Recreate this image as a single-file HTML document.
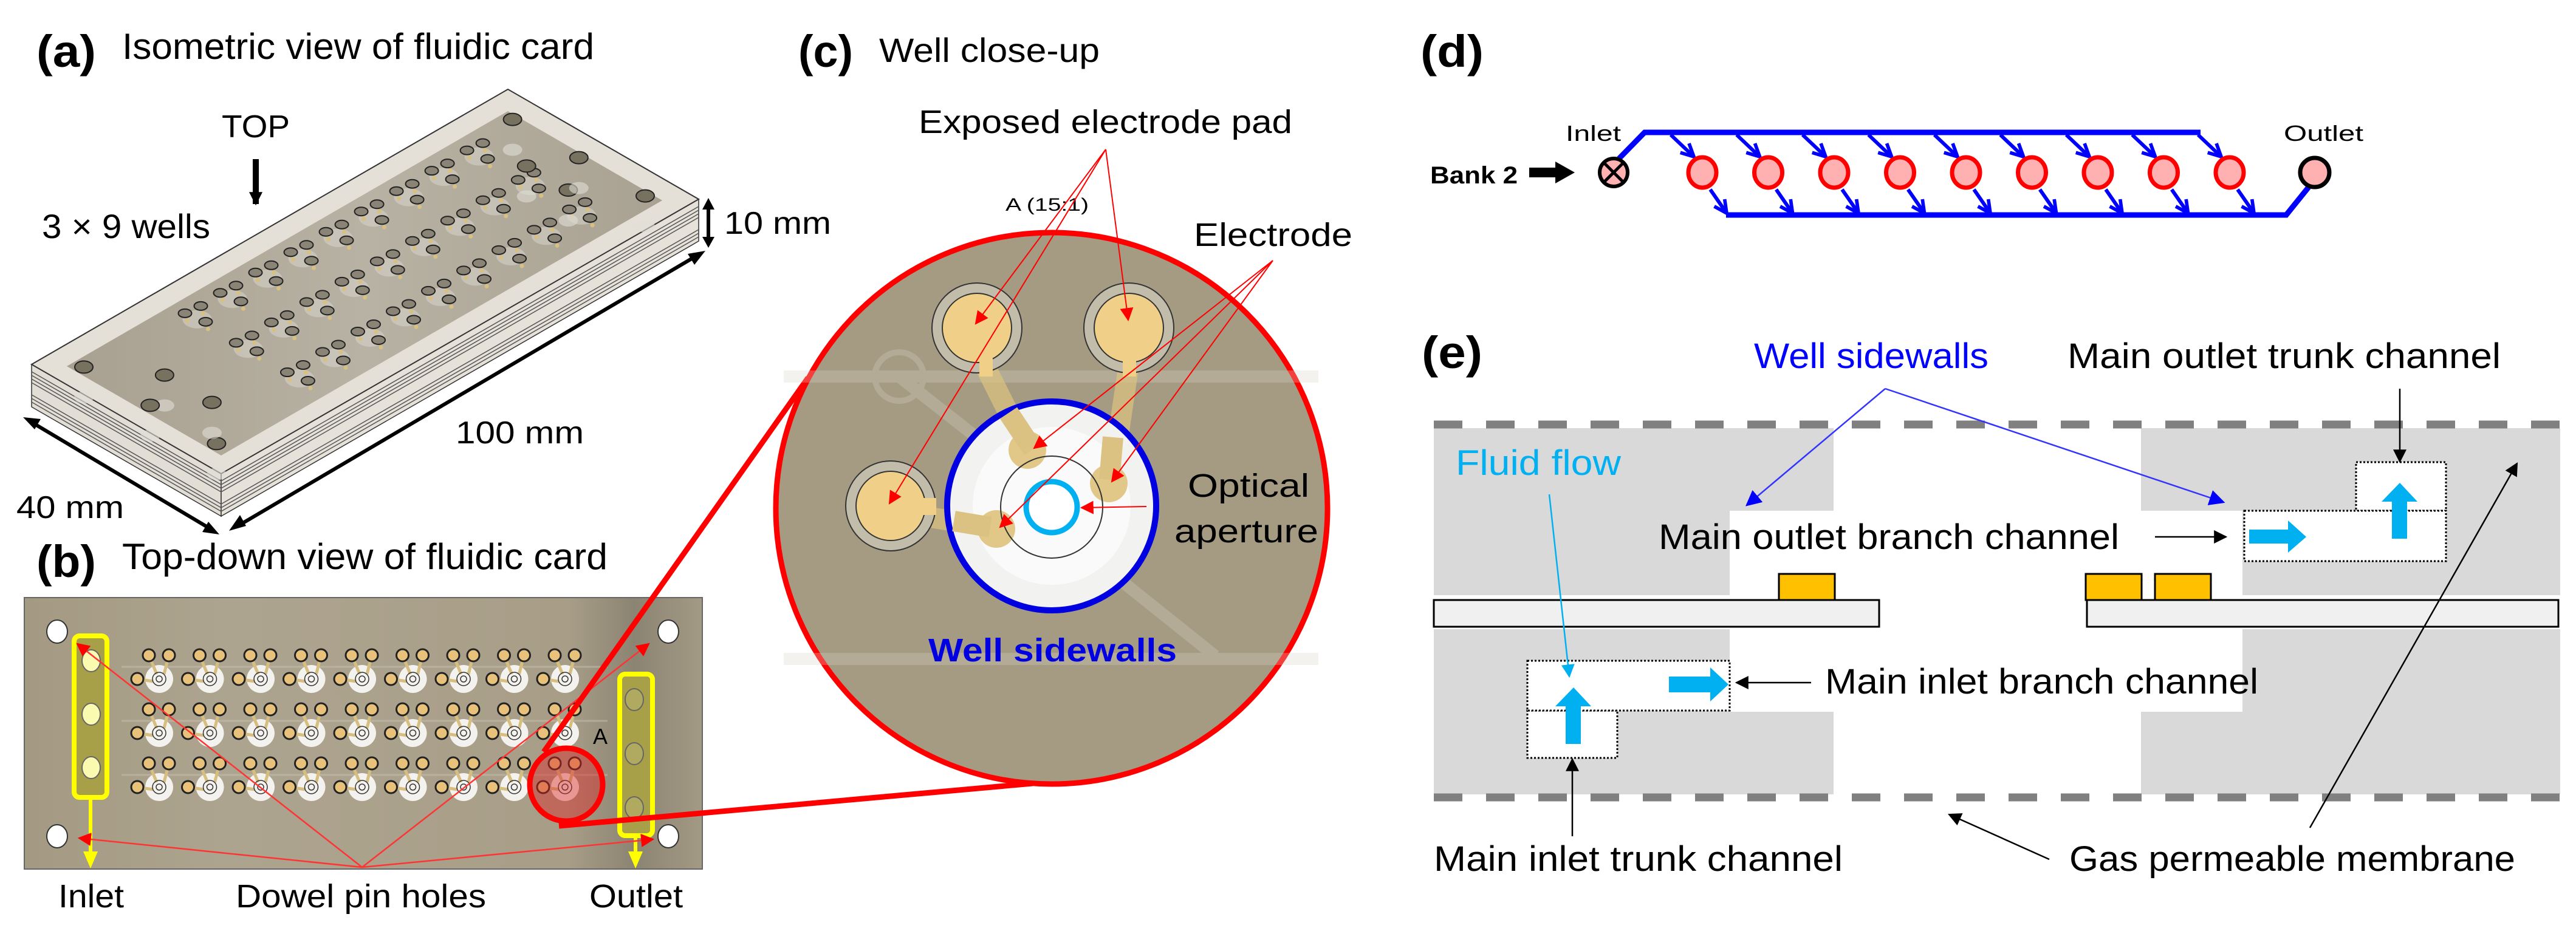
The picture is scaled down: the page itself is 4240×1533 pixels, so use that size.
<!DOCTYPE html>
<html><head><meta charset="utf-8"><style>
html,body{margin:0;padding:0;background:#fff}
svg{display:block}
text{font-family:"Liberation Sans",sans-serif}
</style></head><body>
<svg id="s" xmlns="http://www.w3.org/2000/svg" width="4240" height="1533" viewBox="0 0 4240 1533">
<defs>
<marker id="abk" viewBox="0 0 10 10" markerWidth="22" markerHeight="22" refX="9" refY="5" orient="auto" markerUnits="userSpaceOnUse"><path d="M0,0 L10,5 L0,10 z" fill="#000"/></marker>
<marker id="ar" viewBox="0 0 10 10" markerWidth="22" markerHeight="22" refX="9" refY="5" orient="auto" markerUnits="userSpaceOnUse"><path d="M0,0 L10,5 L0,10 z" fill="#f00"/></marker>
<marker id="abl" viewBox="0 0 10 10" markerWidth="26" markerHeight="26" refX="9" refY="5" orient="auto" markerUnits="userSpaceOnUse"><path d="M0,0 L10,5 L0,10 z" fill="#00f"/></marker>
<marker id="acy" viewBox="0 0 10 10" markerWidth="22" markerHeight="22" refX="9" refY="5" orient="auto" markerUnits="userSpaceOnUse"><path d="M0,0 L10,5 L0,10 z" fill="#00b0f0"/></marker>
<marker id="av" viewBox="0 0 10 10" markerWidth="26" markerHeight="26" refX="9" refY="5" orient="auto" markerUnits="userSpaceOnUse"><path d="M1,1 L9,5 L1,9" fill="none" stroke="#00f" stroke-width="2.2"/></marker>
<linearGradient id="topf" x1="0" y1="0" x2="1" y2="0"><stop offset="0" stop-color="#a8a090"/><stop offset="0.5" stop-color="#b8b2a4"/><stop offset="1" stop-color="#a9a292"/></linearGradient>
<linearGradient id="cardb" x1="0" y1="0" x2="1" y2="0"><stop offset="0" stop-color="#a49a83"/><stop offset="0.3" stop-color="#ada48f"/><stop offset="0.8" stop-color="#a89e88"/><stop offset="0.9" stop-color="#8c8472"/><stop offset="1" stop-color="#a39a85"/></linearGradient>
</defs>

<!-- ===== (a) ===== -->
<text x="60" y="110" font-size="74" font-weight="bold" textLength="98" lengthAdjust="spacingAndGlyphs">(a)</text>
<text x="201" y="97" font-size="60" textLength="777" lengthAdjust="spacingAndGlyphs">Isometric view of fluidic card</text>
<g id="card">
<polygon points="52,600 364,780 364,850 52,670" fill="#e2ded6" stroke="#333" stroke-width="1.5"/>
<polygon points="364,780 1150,328 1150,397 364,850" fill="#e6e2da" stroke="#333" stroke-width="1.5"/>
<g stroke="#555" stroke-width="1.5" fill="none">
<path d="M52,612 L364,792 L1150,340"/><path d="M52,618 L364,798 L1150,346"/><path d="M52,624 L364,804 L1150,352"/><path d="M52,630 L364,810 L1150,358"/>
<path d="M52,650 L364,830 L1150,378"/><path d="M52,656 L364,836 L1150,384"/><path d="M52,662 L364,842 L1150,390"/>
</g>
<polygon points="52,600 836,147 1150,328 364,780" fill="#e4e0d8" stroke="#333" stroke-width="2"/>
<polygon points="110,603 836,183 1090,330 364,750" fill="url(#topf)"/>
</g>
<text x="365" y="226" font-size="52" textLength="112" lengthAdjust="spacingAndGlyphs">TOP</text>
<line x1="421" y1="262" x2="421" y2="336" stroke="#000" stroke-width="10" marker-end="url(#abk)"/>
<text x="69" y="392" font-size="56" textLength="277" lengthAdjust="spacingAndGlyphs">3 × 9 wells</text>
<line x1="1166" y1="340" x2="1166" y2="395" stroke="#000" stroke-width="6"/>
<path d="M1156,345 L1166,326 L1176,345 z M1156,390 L1166,408 L1176,390 z" fill="#000"/>
<text x="1192" y="385" font-size="52" textLength="176" lengthAdjust="spacingAndGlyphs">10 mm</text>
<text x="750" y="730" font-size="52" textLength="211" lengthAdjust="spacingAndGlyphs">100 mm</text>
<text x="27" y="853" font-size="52" textLength="177" lengthAdjust="spacingAndGlyphs">40 mm</text>
<line x1="395" y1="864" x2="1140" y2="425" stroke="#000" stroke-width="6"/>
<path d="M377,874 L395,848 L405,866 z M1161,413 L1132,418 L1143,436 z" fill="#000"/>
<line x1="55" y1="697" x2="345" y2="870" stroke="#000" stroke-width="6"/>
<path d="M38,687 L67,690 L57,707 z M361,880 L333,876 L343,859 z" fill="#000"/>
<g id="isoholes"></g>

<!-- ===== (b) ===== -->
<text x="60" y="950" font-size="74" font-weight="bold" textLength="98" lengthAdjust="spacingAndGlyphs">(b)</text>
<text x="201" y="937" font-size="60" textLength="799" lengthAdjust="spacingAndGlyphs">Top-down view of fluidic card</text>
<rect x="40" y="984" width="1116" height="447" fill="url(#cardb)" stroke="#666" stroke-width="2"/>
<g id="bwells"></g>
<ellipse cx="94" cy="1040" rx="17" ry="19" fill="#fff" stroke="#333" stroke-width="2"/>
<ellipse cx="94" cy="1377" rx="17" ry="19" fill="#fff" stroke="#333" stroke-width="2"/>
<ellipse cx="1100" cy="1040" rx="17" ry="19" fill="#fff" stroke="#333" stroke-width="2"/>
<ellipse cx="1100" cy="1377" rx="17" ry="19" fill="#fff" stroke="#333" stroke-width="2"/>
<rect x="122" y="1047" width="54" height="266" rx="9" fill="#a8a048" stroke="#ffff00" stroke-width="8"/>
<ellipse cx="150" cy="1088" rx="15" ry="18" fill="#fafab0" stroke="#666" stroke-width="2"/>
<ellipse cx="150" cy="1176" rx="15" ry="18" fill="#fafab0" stroke="#666" stroke-width="2"/>
<ellipse cx="150" cy="1264" rx="15" ry="18" fill="#fafab0" stroke="#666" stroke-width="2"/>
<rect x="1020" y="1110" width="54" height="266" rx="9" fill="#a8a048" stroke="#ffff00" stroke-width="8"/>
<ellipse cx="1044" cy="1152" rx="15" ry="18" fill="#b0aa60" stroke="#666" stroke-width="2"/>
<ellipse cx="1044" cy="1241" rx="15" ry="18" fill="#b0aa60" stroke="#666" stroke-width="2"/>
<ellipse cx="1044" cy="1330" rx="15" ry="18" fill="#b0aa60" stroke="#666" stroke-width="2"/>
<line x1="149" y1="1316" x2="149" y2="1405" stroke="#ffff00" stroke-width="6"/>
<path d="M137,1402 L149,1430 L161,1402 z" fill="#ffff00"/>
<line x1="1046" y1="1380" x2="1046" y2="1405" stroke="#ffff00" stroke-width="6"/>
<path d="M1034,1402 L1046,1430 L1058,1402 z" fill="#ffff00"/>
<circle cx="932" cy="1292" r="60" fill="rgba(220,40,40,0.45)" stroke="#f00" stroke-width="9"/>
<text x="976" y="1225" font-size="36">A</text>
<g stroke="#f33" stroke-width="2.5" fill="none">
<line x1="596" y1="1428" x2="130" y2="1380" marker-end="url(#ar)"/>
<line x1="596" y1="1428" x2="127" y2="1060" marker-end="url(#ar)"/>
<line x1="596" y1="1428" x2="1068" y2="1060" marker-end="url(#ar)"/>
<line x1="596" y1="1428" x2="1075" y2="1382" marker-end="url(#ar)"/>
</g>
<text x="96" y="1494" font-size="54" textLength="108" lengthAdjust="spacingAndGlyphs">Inlet</text>
<text x="388" y="1494" font-size="54" textLength="412" lengthAdjust="spacingAndGlyphs">Dowel pin holes</text>
<text x="970" y="1494" font-size="54" textLength="154" lengthAdjust="spacingAndGlyphs">Outlet</text>

<!-- ===== (c) ===== -->
<text x="1314" y="110" font-size="74" font-weight="bold" textLength="90" lengthAdjust="spacingAndGlyphs">(c)</text>
<text x="1447" y="102" font-size="56" textLength="363" lengthAdjust="spacingAndGlyphs">Well close-up</text>
<line x1="895" y1="1238" x2="1330" y2="622" stroke="#f00" stroke-width="9"/>
<line x1="920" y1="1360" x2="1700" y2="1290" stroke="#f00" stroke-width="9"/>
<circle cx="1731" cy="837" r="454" fill="#a59a82" stroke="#f00" stroke-width="9"/>
<g opacity="0.3" fill="none" stroke="#d8d4c8">
<line x1="1290" y1="620" x2="2170" y2="620" stroke-width="20"/>
<line x1="1290" y1="1085" x2="2170" y2="1085" stroke-width="20"/>
<line x1="1480" y1="620" x2="1620" y2="730" stroke-width="20"/>
<line x1="1850" y1="960" x2="2000" y2="1080" stroke-width="20"/>
<circle cx="1480" cy="620" r="40" stroke-width="10"/>
</g>
<g fill="#e8d090" opacity="0.8">
<path d="M1620,600 L1690,740" stroke="#dcc282" stroke-width="34" opacity="0.9"/>
<path d="M1858,600 L1830,790" stroke="#dcc282" stroke-width="34" opacity="0.9"/>
<path d="M1520,850 L1640,870" stroke="#dcc282" stroke-width="34" opacity="0.9"/>
</g>
<circle cx="1731" cy="833" r="172" fill="#f2f2f0" stroke="#0000e0" stroke-width="10"/>
<circle cx="1731" cy="833" r="130" fill="#fafafa"/>
<circle cx="1691" cy="741" r="31" fill="#e2c888"/>
<circle cx="1825" cy="796" r="31" fill="#e2c888"/>
<circle cx="1640" cy="871" r="31" fill="#e2c888"/>
<path d="M1700,740 L1660,680" stroke="#dcc282" stroke-width="34"/>
<path d="M1826,790 L1832,720" stroke="#dcc282" stroke-width="34"/>
<path d="M1630,868 L1570,858" stroke="#dcc282" stroke-width="34"/>
<circle cx="1731" cy="835" r="84" fill="none" stroke="#333" stroke-width="2"/>
<circle cx="1731" cy="835" r="42" fill="#fff" stroke="#00b0f0" stroke-width="9"/>
<g stroke="#333" stroke-width="2">
<circle cx="1608" cy="540" r="74" fill="#c2bcaa"/><circle cx="1608" cy="540" r="57" fill="#f0d088"/>
<circle cx="1858" cy="540" r="74" fill="#c2bcaa"/><circle cx="1858" cy="540" r="57" fill="#f0d088"/>
<circle cx="1466" cy="833" r="74" fill="#c2bcaa"/><circle cx="1466" cy="833" r="57" fill="#f0d088"/>
</g>
<rect x="1612" y="590" width="22" height="30" fill="#f0d088"/>
<rect x="1848" y="590" width="22" height="30" fill="#f0d088"/>
<rect x="1515" y="820" width="26" height="28" fill="#f0d088"/>
<text x="1512" y="219" font-size="54" textLength="615" lengthAdjust="spacingAndGlyphs">Exposed electrode pad</text>
<text x="1655" y="347" font-size="30" textLength="137" lengthAdjust="spacingAndGlyphs">A (15:1)</text>
<text x="1965" y="405" font-size="54" textLength="261" lengthAdjust="spacingAndGlyphs">Electrode</text>
<text x="1955" y="818" font-size="54" textLength="200" lengthAdjust="spacingAndGlyphs">Optical</text>
<text x="1933" y="893" font-size="54" textLength="237" lengthAdjust="spacingAndGlyphs">aperture</text>
<text x="1528" y="1089" font-size="54" font-weight="bold" fill="#0000e0" textLength="409" lengthAdjust="spacingAndGlyphs">Well sidewalls</text>
<g stroke="#f00" stroke-width="2" fill="none">
<line x1="1820" y1="246" x2="1606" y2="533" marker-end="url(#ar)"/>
<line x1="1820" y1="246" x2="1857" y2="527" marker-end="url(#ar)"/>
<line x1="1820" y1="246" x2="1464" y2="829" marker-end="url(#ar)"/>
<line x1="2095" y1="429" x2="1702" y2="738" marker-end="url(#ar)"/>
<line x1="2095" y1="429" x2="1830" y2="793" marker-end="url(#ar)"/>
<line x1="2095" y1="429" x2="1646" y2="868" marker-end="url(#ar)"/>
<line x1="1887" y1="834" x2="1780" y2="836" marker-end="url(#ar)"/>
</g>

<!-- ===== (d) ===== -->
<text x="2338" y="110" font-size="74" font-weight="bold" textLength="104" lengthAdjust="spacingAndGlyphs">(d)</text>
<text x="2577" y="232" font-size="36" textLength="91" lengthAdjust="spacingAndGlyphs">Inlet</text>
<text x="3759" y="232" font-size="36" textLength="131" lengthAdjust="spacingAndGlyphs">Outlet</text>
<text x="2354" y="302" font-size="40" font-weight="bold" textLength="144" lengthAdjust="spacingAndGlyphs">Bank 2</text>
<rect x="2517" y="276" width="45" height="16" fill="#000"/>
<path d="M2560,266 L2592,284 L2560,302 z" fill="#000"/>
<polyline points="2664,262 2707,218 3622,218" fill="none" stroke="#00f" stroke-width="9"/>
<polyline points="2841,354 3763,354 3800,308" fill="none" stroke="#00f" stroke-width="9"/>
<g id="dwells"></g>
<circle cx="2656" cy="284" r="23" fill="#ffb0b0" stroke="#000" stroke-width="6"/>
<path d="M2640,268 L2672,300 M2672,268 L2640,300" stroke="#000" stroke-width="5"/>
<circle cx="3810" cy="284" r="24" fill="#ffb0b0" stroke="#000" stroke-width="7"/>

<!-- ===== (e) ===== -->
<text x="2340" y="606" font-size="74" font-weight="bold" textLength="100" lengthAdjust="spacingAndGlyphs">(e)</text>
<path d="M2360,705 H3018 V841 H2847 V980 H2360 z" fill="#d9d9d9"/>
<path d="M2360,1036 H2847 V1172 H3018 V1308 H2360 z" fill="#d9d9d9"/>
<path d="M3524,705 H4214 V980 H3691 V841 H3524 z" fill="#d9d9d9"/>
<path d="M3691,1036 H4214 V1308 H3524 V1172 H3691 z" fill="#d9d9d9"/>
<line x1="2360" y1="699" x2="4214" y2="699" stroke="#808080" stroke-width="13" stroke-dasharray="47 39"/>
<line x1="2360" y1="1313" x2="4214" y2="1313" stroke="#808080" stroke-width="13" stroke-dasharray="47 39"/>
<rect x="2360" y="988" width="733" height="44" fill="#f0f0f0" stroke="#000" stroke-width="3"/>
<rect x="3435" y="988" width="776" height="44" fill="#f0f0f0" stroke="#000" stroke-width="3"/>
<rect x="2928" y="945" width="92" height="43" fill="#ffc000" stroke="#000" stroke-width="3"/>
<rect x="3433" y="945" width="92" height="43" fill="#ffc000" stroke="#000" stroke-width="3"/>
<rect x="3547" y="945" width="92" height="43" fill="#ffc000" stroke="#000" stroke-width="3"/>
<g fill="#fff" stroke="#000" stroke-width="3" stroke-dasharray="3 3">
<rect x="3878" y="761" width="148" height="80"/>
<rect x="3694" y="841" width="332" height="83"/>
<rect x="2514" y="1170" width="148" height="78"/>
<rect x="2514" y="1088" width="333" height="82"/>
</g>
<g fill="#00b0f0">
<path d="M3702,872 H3766 V857 L3796,884 L3766,910 V895 H3702 z"/>
<path d="M3937,887 V826 H3920 L3950,795 L3979,826 H3962 V887 z"/>
<path d="M2747,1114 H2815 V1099 L2845,1127 L2815,1155 V1140 H2747 z"/>
<path d="M2577,1225 V1163 H2560 L2590,1132 L2619,1163 H2602 V1225 z"/>
</g>
<text x="2887" y="606" font-size="58" fill="#0000ff" textLength="386" lengthAdjust="spacingAndGlyphs">Well sidewalls</text>
<text x="3403" y="606" font-size="58" textLength="713" lengthAdjust="spacingAndGlyphs">Main outlet trunk channel</text>
<text x="2396" y="782" font-size="58" fill="#00b0f0" textLength="272" lengthAdjust="spacingAndGlyphs">Fluid flow</text>
<text x="2730" y="904" font-size="58" textLength="758" lengthAdjust="spacingAndGlyphs">Main outlet branch channel</text>
<text x="3004" y="1142" font-size="58" textLength="713" lengthAdjust="spacingAndGlyphs">Main inlet branch channel</text>
<text x="2360" y="1434" font-size="58" textLength="673" lengthAdjust="spacingAndGlyphs">Main inlet trunk channel</text>
<text x="3406" y="1434" font-size="58" textLength="734" lengthAdjust="spacingAndGlyphs">Gas permeable membrane</text>
<g stroke="#000" stroke-width="2.5" fill="none">
<line x1="3547" y1="884" x2="3664" y2="884" marker-end="url(#abk)"/>
<line x1="2981" y1="1124" x2="2858" y2="1124" marker-end="url(#abk)"/>
<line x1="2588" y1="1377" x2="2588" y2="1250" marker-end="url(#abk)"/>
<line x1="3950" y1="640" x2="3950" y2="760" marker-end="url(#abk)"/>
<line x1="3373" y1="1415" x2="3208" y2="1341" marker-end="url(#abk)"/>
<line x1="3802" y1="1363" x2="4143" y2="763" marker-end="url(#abk)"/>
</g>
<g stroke="#3333ff" stroke-width="2.5" fill="none">
<line x1="3103" y1="640" x2="2875" y2="832" marker-end="url(#abl)"/>
<line x1="3103" y1="640" x2="3660" y2="827" marker-end="url(#abl)"/>
</g>
<line x1="2550" y1="814" x2="2583" y2="1114" stroke="#00b0f0" stroke-width="2.5" marker-end="url(#acy)"/>
</svg>
<script>
var NS="http://www.w3.org/2000/svg";
function el(p,t,a){var e=document.createElementNS(NS,t);for(var k in a)e.setAttribute(k,a[k]);p.appendChild(e);return e;}
var bw=document.getElementById("bwells");
for(var r=0;r<3;r++){var cy=1118+r*89;
 el(bw,"line",{x1:200,y1:cy-20,x2:1000,y2:cy-20,stroke:"#c8c2b2","stroke-width":3,opacity:0.5});
 for(var c=0;c<9;c++){var cx=262+c*83.5;
  el(bw,"circle",{cx:cx,cy:cy,r:23,fill:"#f4f2ee"});
  el(bw,"path",{d:"M"+(cx-17)+","+(cy-39)+" L"+(cx-4)+","+(cy-8)+" M"+(cx+16)+","+(cy-39)+" L"+(cx+8)+","+(cy-8)+" M"+(cx-36)+","+cy+" L"+(cx-10)+","+(cy+4),stroke:"#d6be80","stroke-width":5,fill:"none"});
  el(bw,"circle",{cx:cx,cy:cy,r:11,fill:"none",stroke:"#333","stroke-width":1.5});
  el(bw,"circle",{cx:cx,cy:cy,r:5,fill:"none",stroke:"#333","stroke-width":1.5});
  [[cx-17,cy-39],[cx+16,cy-39],[cx-36,cy]].forEach(function(p){el(bw,"circle",{cx:p[0],cy:p[1],r:10,fill:"#e8c27a",stroke:"#222","stroke-width":3});});
 }}
var ih=document.getElementById("isoholes");
function P(u,v){return [52+u*784+v*312, 600-u*453+v*180];}
for(var c=0;c<9;c++)for(var r=0;r<3;r++){var u=0.26+c*0.074,v=0.22+r*0.27;var p=P(u,v);
 el(ih,"ellipse",{cx:p[0],cy:p[1]+4,rx:24,ry:15,fill:"#dcd8d0",opacity:0.5});
 [[-20,-6],[6,-18],[14,8]].forEach(function(o){
  el(ih,"ellipse",{cx:p[0]+o[0],cy:p[1]+o[1],rx:11,ry:7,fill:"#8a8476",stroke:"#222","stroke-width":2});
  el(ih,"circle",{cx:p[0]+o[0]+4,cy:p[1]+o[1]+12,r:3.5,fill:"#d8c080"});});
}
[[0.05,0.15],[0.05,0.85],[0.95,0.15],[0.95,0.85],[0.12,0.4],[0.12,0.65],[0.88,0.4],[0.88,0.62],[0.05,0.5],[0.95,0.5]].forEach(function(q){var p=P(q[0],q[1]);
 el(ih,"ellipse",{cx:p[0],cy:p[1],rx:15,ry:10,fill:"#77715f",stroke:"#222","stroke-width":2});
 el(ih,"ellipse",{cx:p[0],cy:p[1]+50,rx:16,ry:10,fill:"#e0ddd6",opacity:0.6});});
var dw=document.getElementById("dwells");
for(var i=0;i<9;i++){var x=2802+i*108.5;
 el(dw,"line",{x1:x-52,y1:222,x2:x-14,y2:258,stroke:"#00f","stroke-width":6,"marker-end":"url(#av)"});
 el(dw,"line",{x1:x+13,y1:312,x2:x+40,y2:351,stroke:"#00f","stroke-width":6,"marker-end":"url(#av)"});
 el(dw,"ellipse",{cx:x,cy:284,rx:23,ry:25,fill:"#ffb0b0",stroke:"#f00","stroke-width":7});
}
</script>
</body></html>
